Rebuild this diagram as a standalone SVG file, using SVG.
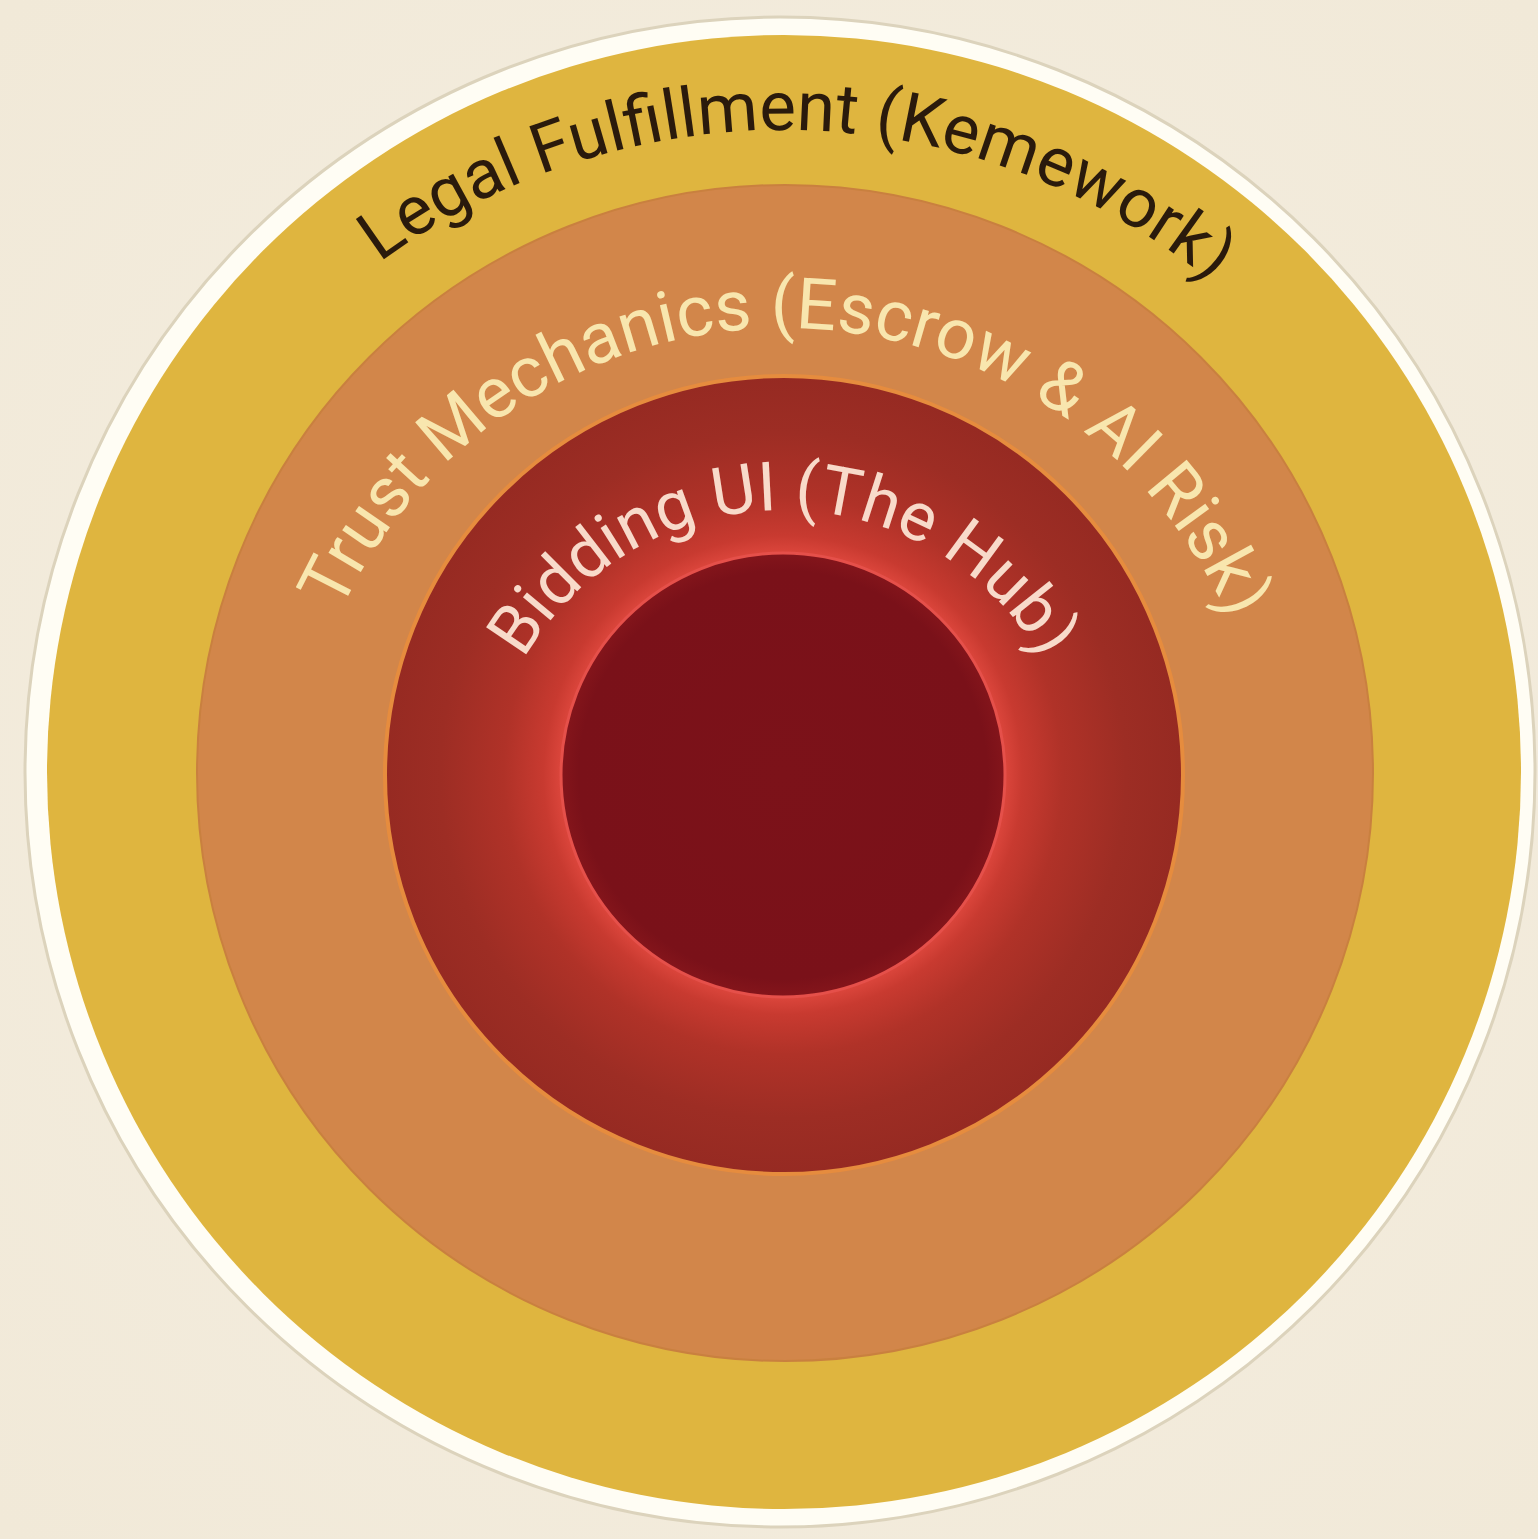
<svg xmlns="http://www.w3.org/2000/svg" width="1538" height="1539" viewBox="0 0 1538 1539">
  <defs>
    <radialGradient id="bg" cx="50%" cy="50%" r="70%">
      <stop offset="0" stop-color="#F5EFE2"/>
      <stop offset="1" stop-color="#F1E9D8"/>
    </radialGradient>
    <radialGradient id="redRing" gradientUnits="userSpaceOnUse" cx="783" cy="775" r="399">
      <stop offset="0.555" stop-color="#DC463C"/>
      <stop offset="0.6" stop-color="#C83A30"/>
      <stop offset="0.7" stop-color="#B03228"/>
      <stop offset="0.86" stop-color="#9D2D24"/>
      <stop offset="1" stop-color="#962A22"/>
    </radialGradient>
    <radialGradient id="core" gradientUnits="userSpaceOnUse" cx="783" cy="775" r="222">
      <stop offset="0" stop-color="#7C1219"/>
      <stop offset="0.92" stop-color="#7A1119"/>
      <stop offset="1" stop-color="#84151B"/>
    </radialGradient>
    <path id="arcLegal" d="M 783 1490 A 680 680 0 1 1 783 130 A 680 680 0 1 1 783 1490"/>
    <path id="arcTrust" d="M 783 1302 A 487 487 0 1 1 783 328 A 487 487 0 1 1 783 1302"/>
    <path id="arcBid" d="M 783 1110 A 300 300 0 1 1 783 510 A 300 300 0 1 1 783 1110"/>
    <style>
      .lbl { font-family: Roboto, "Liberation Sans", sans-serif; font-weight: 400; }
      .legal { fill: #2A1A0C; font-size: 69px; }
      .trust { fill: #F8E6AE; font-size: 71px; }
      .bid { fill: #F8DACA; font-size: 68px; }
    </style>
  </defs>

  <rect x="0" y="0" width="1538" height="1539" fill="url(#bg)"/>

  <g id="ring-outer-frame">
    <circle cx="780" cy="772" r="755" fill="#FFFDF4" stroke="#DCD3BC" stroke-width="3"/>
  </g>

  <g id="ring-legal">
    <circle cx="784" cy="772" r="737" fill="#DFB53F"/>
  </g>

  <g id="ring-trust">
    <circle cx="785" cy="773" r="588" fill="#D2864A" stroke="#C9803F" stroke-width="2"/>
  </g>

  <g id="ring-bidding">
    <circle cx="784" cy="775" r="399" fill="url(#redRing)" stroke="#E68C3E" stroke-width="4"/>
  </g>

  <g id="core-hub">
    <circle cx="783" cy="775" r="222" fill="url(#core)" stroke="#E5504A" stroke-width="3"/>
  </g>

  <g id="labels">
    <text class="lbl legal"><textPath href="#arcLegal" startOffset="50.375%" text-anchor="middle">Legal Fulfillment (Kemework)</textPath></text>
    <text class="lbl trust"><textPath href="#arcTrust" startOffset="50.15%" text-anchor="middle">Trust Mechanics (Escrow &amp; AI Risk)</textPath></text>
    <text class="lbl bid"><textPath href="#arcBid" startOffset="50%" text-anchor="middle">Bidding UI (The Hub)</textPath></text>
  </g>

  <g id="connectors"/>
</svg>
